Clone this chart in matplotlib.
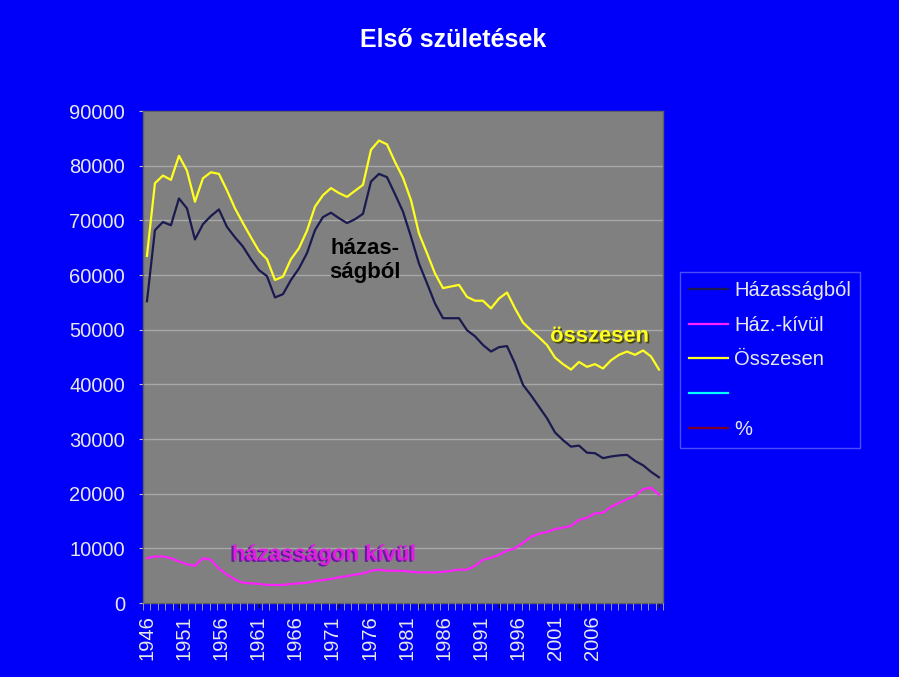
import matplotlib
matplotlib.use("Agg")
import matplotlib.pyplot as plt
import matplotlib.patheffects as pe

plt.rcParams['font.family'] = ['Liberation Sans', 'DejaVu Sans']

years = list(range(1946, 2011))

hazassagbol = [55.2, 68.2, 69.7, 69.1, 74.0, 72.2, 66.5, 69.3, 70.8, 72.0,
               68.8, 66.9, 65.2, 62.9, 60.9, 59.8, 55.9, 56.5, 59.1, 61.2,
               64.0, 68.2, 70.6, 71.4, 70.4, 69.5, 70.2, 71.2, 77.1, 78.5,
               77.9, 74.8, 71.6, 67.0, 62.1, 58.5, 54.8, 52.1, 52.1, 52.1,
               49.9, 48.8, 47.2, 46.0, 46.8, 47.0, 43.8, 39.9, 38.0, 35.9,
               33.8, 31.2, 29.8, 28.6, 28.8, 27.5, 27.4, 26.5, 26.8, 27.0,
               27.1, 26.0, 25.2, 24.0, 23.0]

haz_kivul = [8.2, 8.5, 8.5, 8.2, 7.6, 7.1, 6.8, 8.2, 7.9, 6.3,
             5.2, 4.3, 3.7, 3.6, 3.5, 3.3, 3.3, 3.3, 3.5, 3.6,
             3.7, 4.0, 4.2, 4.4, 4.7, 4.9, 5.2, 5.4, 5.9, 6.1,
             5.9, 5.9, 5.9, 5.7, 5.6, 5.6, 5.6, 5.7, 5.9, 6.1,
             6.1, 6.8, 7.9, 8.3, 8.8, 9.6, 10.0, 11.0, 12.1, 12.7,
             13.0, 13.5, 13.8, 14.1, 15.2, 15.6, 16.4, 16.5, 17.6, 18.3,
             19.0, 19.6, 20.8, 21.1, 19.8]

osszesen = [63.5, 76.8, 78.2, 77.4, 81.8, 79.1, 73.4, 77.7, 78.8, 78.5,
            75.5, 72.2, 69.5, 66.9, 64.4, 62.9, 59.1, 59.7, 62.9, 64.9,
            68.1, 72.5, 74.6, 75.9, 75.0, 74.3, 75.4, 76.5, 82.9, 84.6,
            83.9, 80.7, 77.8, 73.7, 67.6, 64.0, 60.3, 57.6, 57.9, 58.2,
            56.0, 55.3, 55.3, 53.9, 55.7, 56.8, 53.9, 51.3, 49.9, 48.6,
            47.2, 44.9, 43.7, 42.7, 44.1, 43.2, 43.7, 42.9, 44.4, 45.4,
            46.0, 45.4, 46.2, 45.1, 42.7]

hazassagbol = [v * 1000 for v in hazassagbol]
haz_kivul = [v * 1000 for v in haz_kivul]
osszesen = [v * 1000 for v in osszesen]

label_years = list(range(1946, 2007, 5))
legend_labels = ['Házasságból', 'Ház.-kívül', 'Összesen', '', '%']
yticks = list(range(0, 90001, 10000))

BLUE = '#0000FA'
TXT = '#E8E8E8'
fig = plt.figure(figsize=(8.99, 6.77), dpi=100, facecolor=BLUE)
ax = fig.add_axes([0.159, 0.1093, 0.5785, 0.7267])
ax.set_facecolor('#808080')

h1, = ax.plot(years, hazassagbol, color='#1A1A50', lw=1.6)
h2, = ax.plot(years, haz_kivul, color='#FF20FF', lw=1.6)
h3, = ax.plot(years, osszesen, color='#FFFF20', lw=1.6)
h4, = ax.plot([], [], color='#00FFFF', lw=1.6)
h5, = ax.plot([], [], color='#800020', lw=1.6)

ax.set_xlim(1945.5, 2010.5)
ax.set_ylim(0, 90000)
ax.set_yticks(yticks)
ax.set_yticklabels([str(v) for v in yticks])
ax.grid(axis='y', color='#A8A8A8', lw=1.0)
ax.set_axisbelow(True)
ax.tick_params(axis='y', colors=TXT, labelsize=14.5, length=3, width=0.8, pad=10, color='#C0C0C0')
ax.tick_params(axis='x', bottom=False, labelbottom=False)
for s in ax.spines.values():
    s.set_color('#606060')
    s.set_linewidth(1.0)

# category label axis
ax2 = ax.twiny()
ax2.set_xlim(1945.5, 2015.5)
ax2.xaxis.set_ticks_position('bottom')
ax2.xaxis.set_label_position('bottom')
ax2.set_xticks(label_years)
ax2.set_xticklabels([str(y) for y in label_years], rotation=90)
ax2.set_xticks([y + 0.5 for y in range(1945, 2016)], minor=True)
ax2.tick_params(axis='x', which='major', colors=TXT, labelsize=14.5, length=0, pad=9)
ax2.tick_params(axis='x', which='minor', length=5, width=0.6, color='#B0B0D8')
for s in ax2.spines.values():
    s.set_visible(False)

# annotations
ax.text(1973.3, 62600, 'házas-\nságból', ha='center', va='center', fontsize=16,
        fontweight='bold', color='black', linespacing=1.2)
ax.text(2002.6, 48800, 'összesen', ha='center', va='center', fontsize=15.8,
        fontweight='bold', color='#FFFF20',
        path_effects=[pe.withSimplePatchShadow(offset=(1.2, -1.2), shadow_rgbFace='#404000', alpha=0.9)])
ax.text(1968.1, 8800, 'házasságon kívül', ha='center', va='center', fontsize=16,
        fontweight='bold', color='#E020E0',
        path_effects=[pe.withSimplePatchShadow(offset=(-1.5, -1.0), shadow_rgbFace='#6010A0', alpha=0.9)])

fig.text(0.504, 0.941, 'Első születések', ha='center', va='center', fontsize=18,
         fontweight='bold', color='white')

leg = fig.legend([h1, h2, h3, h4, h5], legend_labels,
                 loc='upper left', bbox_to_anchor=(680 / 899, 1 - 272 / 677),
                 borderaxespad=0, frameon=True, fontsize=14.5, labelcolor=TXT,
                 handlelength=1.95, handletextpad=0.3, labelspacing=0.78,
                 borderpad=0.45, fancybox=False)
leg.get_frame().set_facecolor(BLUE)
leg.get_frame().set_edgecolor('#6060FF')
leg.get_frame().set_linewidth(1.0)

fig.savefig('out.png', dpi=100, facecolor=BLUE)
